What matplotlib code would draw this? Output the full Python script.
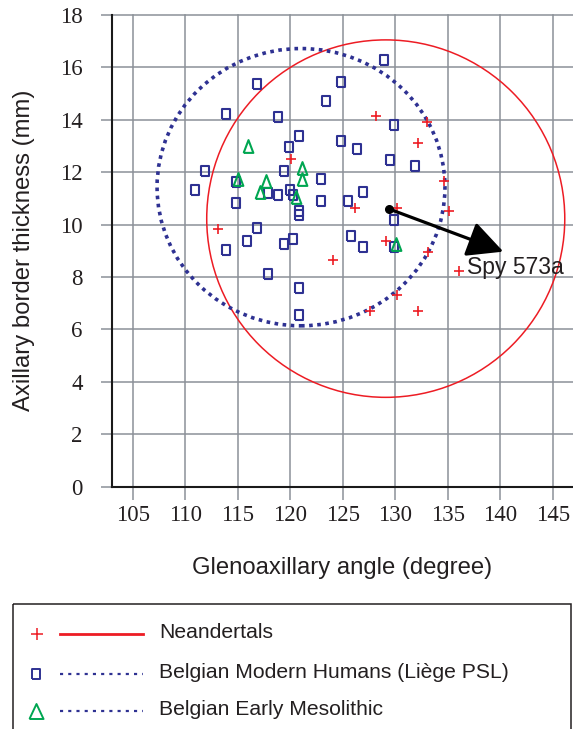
import matplotlib
matplotlib.use('Agg')
import matplotlib.pyplot as plt
from matplotlib.patches import Ellipse, Rectangle

# ---------------- data ----------------
nean_x = [113.10, 120.08, 128.17, 133.05, 132.14, 134.60, 126.17, 130.17, 135.12,
          129.08, 124.10, 133.12, 136.05, 130.14, 127.60, 132.20]
nean_y = [9.82, 12.49, 14.13, 13.93, 13.10, 11.67, 10.62, 10.65, 10.53,
          9.38, 8.65, 8.96, 8.23, 7.30, 6.69, 6.69]

mod_x = [116.81, 113.89, 118.82, 120.84, 119.93, 111.89, 119.41, 123.41, 124.84, 124.86,
         122.90, 110.93, 114.81, 117.91, 118.82, 119.94, 120.22, 122.90, 120.84, 120.84,
         114.81, 116.81, 115.87, 113.89, 119.41, 120.30, 117.93, 120.84, 120.84, 128.93,
         129.90, 126.36, 129.50, 131.86, 126.90, 125.48, 129.89, 125.79, 126.90, 129.89]
mod_y = [15.37, 14.22, 14.12, 13.39, 12.97, 12.05, 12.05, 14.73, 15.45, 13.19,
         11.74, 11.32, 11.64, 11.22, 11.12, 11.32, 11.13, 10.91, 10.51, 10.35,
         10.81, 9.88, 9.37, 9.05, 9.25, 9.45, 8.12, 7.59, 6.57, 16.28,
         13.80, 12.87, 12.46, 12.25, 11.23, 10.91, 10.19, 9.57, 9.16, 9.16]

meso_x = [116.01, 121.15, 121.12, 115.06, 117.67, 117.12, 120.55, 130.12]
meso_y = [13.00, 12.18, 11.74, 11.74, 11.67, 11.26, 11.04, 9.25]

spy_x, spy_y = 129.4, 10.6
spy_arrow_tip = (140.3, 8.97)
spy_label = "Spy 573a"
spy_label_pos = (136.84, 8.38)

nean_ellipse = dict(center=(129.1, 10.23), width=34.1, height=13.64)
mod_ellipse = dict(center=(121.03, 11.43), width=27.42, height=10.58)

xticks = [105, 110, 115, 120, 125, 130, 135, 140, 145]
yticks = [0, 2, 4, 6, 8, 10, 12, 14, 16, 18]

xlabel = "Glenoaxillary angle (degree)"
ylabel = "Axillary border thickness (mm)"
legend_labels = ["Neandertals", "Belgian Modern Humans (Liège PSL)", "Belgian Early Mesolithic"]

# ---------------- style ----------------
RED = '#ed1c24'
BLUE = '#2e3192'
GREEN = '#00a651'
GRID = '#8b9198'
TXT = '#231f20'
SANS = 'Liberation Sans'
SERIF = 'Liberation Serif'

SQ = [(-0.37, -0.5), (0.37, -0.5), (0.37, 0.5), (-0.37, 0.5), (-0.37, -0.5)]
TRI = [(-0.38, -0.5), (0.38, -0.5), (0.0, 0.5), (-0.38, -0.5)]
SQ_L = [(-0.39, -0.5), (0.39, -0.5), (0.39, 0.5), (-0.39, 0.5), (-0.39, -0.5)]
TRI_L = [(-0.47, -0.5), (0.47, -0.5), (0.0, 0.5), (-0.47, -0.5)]

W, H = 573, 729
fig = plt.figure(figsize=(W / 100, H / 100), dpi=100)

ax = fig.add_axes([111.7 / W, (H - 486.7) / H, (573.7 - 111.7) / W, (486.7 - 15) / H])
ax.set_xlim(103, 147)
ax.set_ylim(0, 18)
ax.set_xticks(xticks)
ax.set_yticks(yticks)
ax.grid(True, color=GRID, lw=1.1)
ax.set_axisbelow(True)
for gl in ax.get_xgridlines() + ax.get_ygridlines():
    gl.set_clip_on(False)
for s in ['top', 'right']:
    ax.spines[s].set_visible(False)
for s in ['left', 'bottom']:
    ax.spines[s].set_color('#1a1a1a')
    ax.spines[s].set_linewidth(1.5)
ax.tick_params(axis='x', length=9.4, width=1.1, color=GRID, pad=4,
               labelsize=16.5, labelcolor=TXT, labelfontfamily=SERIF)
ax.tick_params(axis='y', length=8, width=1.1, color=GRID, pad=13,
               labelsize=16.5, labelcolor=TXT, labelfontfamily=SERIF)

ax.add_patch(Ellipse(nean_ellipse['center'], nean_ellipse['width'], nean_ellipse['height'],
                     fill=False, ec=RED, lw=1.1, zorder=3))
ax.add_patch(Ellipse(mod_ellipse['center'], mod_ellipse['width'], mod_ellipse['height'],
                     fill=False, ec=BLUE, lw=2.6, ls=(0, (1, 1.25)), zorder=3))

ax.plot(mod_x, mod_y, ls='none', marker=SQ, ms=7.4, mfc='none', mec=BLUE, mew=1.5, zorder=4)
ax.plot(meso_x, meso_y, ls='none', marker=TRI, ms=9.2, mfc='none', mec=GREEN, mew=1.5, zorder=5)
ax.plot(nean_x, nean_y, ls='none', marker='+', ms=7.6, mec=RED, mew=1.2, zorder=6)

ax.annotate('', xy=spy_arrow_tip, xytext=(spy_x, spy_y),
            arrowprops=dict(arrowstyle='-|>,head_length=1.1,head_width=0.55', color='black',
                            lw=2.3, mutation_scale=20, shrinkA=0, shrinkB=0), zorder=7)
ax.plot([spy_x], [spy_y], ls='none', marker='o', ms=5.5, color='black', zorder=8)
ax.text(spy_label_pos[0], spy_label_pos[1], spy_label, ha='left', va='center',
        fontsize=16.5, family=SANS, color=TXT, zorder=8)

fig.text(342 / W, 1 - 568 / H, xlabel, ha='center', va='center', fontsize=17.2, family=SANS, color=TXT)
fig.text(24 / W, 1 - 250 / H, ylabel, ha='center', va='center', rotation=90, fontsize=17.2,
         family=SANS, color=TXT)

# ---------------- legend ----------------
lax = fig.add_axes([0, 0, 1, 1])
lax.set_xlim(0, W)
lax.set_ylim(H, 0)
lax.axis('off')
lax.patch.set_alpha(0)
lax.add_patch(Rectangle((13.3, 604), 557.5, 200, fill=False, ec=TXT, lw=1.1))
rows = [634, 674, 711]
lax.plot([36.7], [rows[0]], marker='+', ms=8.6, mec=RED, mew=1.1)
lax.plot([60, 143], [rows[0]] * 2, color=RED, lw=2.0)
lax.plot([36], [rows[1]], marker=SQ_L, ms=7.9, mfc='none', mec=BLUE, mew=1.4)
lax.plot([60, 143], [rows[1]] * 2, color=BLUE, lw=1.6, ls=(0, (1.4, 2.3)))
lax.plot([36], [rows[2]], marker=TRI_L, ms=10.8, mfc='none', mec=GREEN, mew=1.4)
lax.plot([60, 143], [rows[2]] * 2, color=BLUE, lw=1.6, ls=(0, (1.4, 2.3)))
for r, lab in zip(rows, legend_labels):
    lax.text(159, r - 1.5, lab, ha='left', va='center', fontsize=15.2, family=SANS, color=TXT)

fig.savefig('out.png', dpi=100)
